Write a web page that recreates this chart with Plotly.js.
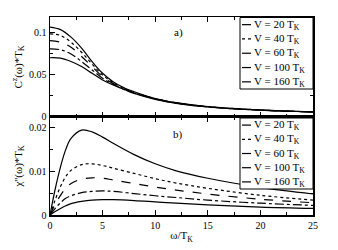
<!DOCTYPE html>
<html><head><meta charset="utf-8">
<script src="https://cdn.plot.ly/plotly-3.0.1.min.js"></script>
<style>html,body{margin:0;padding:0;background:#fff}#c{width:338px;height:250px}</style>
</head><body><div id="c"></div>
<script>
const seriesNames = ["V = 20 T<sub>K</sub>","V = 40 T<sub>K</sub>","V = 60 T<sub>K</sub>","V = 100 T<sub>K</sub>","V = 160 T<sub>K</sub>"];
const dashes = ["solid","dot","dash","dashdot","solid"];

const omegaTop = [0,1,2,3,4,5,6,7,8,10,12,15,20,25];
const cV20  = [0.107,0.104,0.095,0.082,0.066,0.052,0.042,0.035,0.030,0.022,0.0170,0.0125,0.0085,0.0062];
const cV40  = [0.099,0.097,0.089,0.077,0.063,0.050,0.041,0.034,0.029,0.022,0.0168,0.0123,0.0083,0.0061];
const cV60  = [0.091,0.089,0.083,0.072,0.060,0.048,0.040,0.034,0.029,0.0218,0.0167,0.0122,0.0082,0.0060];
const cV100 = [0.081,0.080,0.075,0.066,0.056,0.046,0.039,0.033,0.0285,0.0215,0.0165,0.0120,0.0081,0.0060];
const cV160 = [0.0705,0.070,0.066,0.060,0.052,0.044,0.038,0.033,0.028,0.021,0.0163,0.0119,0.0080,0.0059];

const omegaBot = [0,0.5,1,1.5,2,3,4,5,6,8,10,12,15,20,25];
const xV20  = [0,0.0060,0.0110,0.0150,0.0175,0.0194,0.0190,0.0178,0.0164,0.0138,0.0117,0.0101,0.0084,0.0063,0.0048];
const xV40  = [0,0.0035,0.0065,0.0088,0.0102,0.0115,0.0117,0.0113,0.0107,0.0095,0.0083,0.0073,0.0061,0.0045,0.0034];
const xV60  = [0,0.0025,0.0045,0.0061,0.0072,0.0082,0.0085,0.0084,0.0080,0.0072,0.0064,0.0057,0.0048,0.0036,0.0028];
const xV100 = [0,0.0015,0.0028,0.0038,0.0044,0.0051,0.0054,0.0055,0.0054,0.0049,0.0044,0.0040,0.0034,0.0027,0.0022];
const xV160 = [0,0.0008,0.0015,0.0021,0.0026,0.0031,0.0034,0.0035,0.0035,0.0033,0.0030,0.0027,0.0023,0.0018,0.0015];

const topY = [cV20,cV40,cV60,cV100,cV160];
const botY = [xV20,xV40,xV60,xV100,xV160];

const traces = [];
topY.forEach((y,i)=>traces.push({x:omegaTop,y:y,xaxis:'x',yaxis:'y',type:'scatter',mode:'lines',
  line:{color:'#000',width:1.2,dash:dashes[i],shape:'spline'},name:seriesNames[i],showlegend:false}));
botY.forEach((y,i)=>traces.push({x:omegaBot,y:y,xaxis:'x2',yaxis:'y2',type:'scatter',mode:'lines',
  line:{color:'#000',width:1.2,dash:dashes[i],shape:'spline'},name:seriesNames[i],showlegend:false}));

const F = "Liberation Serif, Times New Roman, serif";
const W = 338, H = 250, ML = 50, MR = 25, MT = 17, MB = 35;
const pw = W-ML-MR, ph = H-MT-MB;
const px = v => (v-ML)/pw;            // pixel -> paper x
const py = v => (H-MB-v)/ph;          // pixel -> paper y

const axBase = {ticks:'inside',ticklen:5,tickwidth:1,tickcolor:'#000',showline:true,linecolor:'#000',linewidth:1.5,
  mirror:'allticks',showgrid:false,zeroline:false,tickfont:{family:F,size:10,color:'#000'}};

// manual legends (compact, like the reference)
const shapes = [], annotations = [];
function addLegend(top, bottom){
  shapes.push({type:'rect',xref:'paper',yref:'paper',x0:px(240),x1:px(313),y0:py(bottom),y1:py(top),
    line:{color:'#000',width:1},fillcolor:'#fff',layer:'above'});
  const step = (bottom-top)/5;
  seriesNames.forEach((n,i)=>{
    const yc = top + step*(i+0.5);
    shapes.push({type:'line',xref:'paper',yref:'paper',x0:px(242),x1:px(251),y0:py(yc),y1:py(yc),
      line:{color:'#000',width:1.2,dash:dashes[i]},layer:'above'});
    annotations.push({xref:'paper',yref:'paper',x:px(253),y:py(yc),xanchor:'left',yanchor:'middle',
      text:n,showarrow:false,font:{family:F,size:11,color:'#000'},borderpad:0});
  });
}
addLegend(17.5, 89);
addLegend(118, 189);
annotations.push({xref:'x',yref:'y',x:12.2,y:0.1,text:'a)',showarrow:false,font:{family:F,size:11,color:'#000'}});
annotations.push({xref:'x2',yref:'y2',x:12.2,y:0.0185,text:'b)',showarrow:false,font:{family:F,size:11,color:'#000'}});

const layout = {
  width:W,height:H,margin:{l:ML,r:MR,t:MT,b:MB},
  paper_bgcolor:'#fff',plot_bgcolor:'#fff',font:{family:F,color:'#000'},
  showlegend:false,
  xaxis:Object.assign({},axBase,{domain:[0,1],anchor:'y',range:[0,25],dtick:5,showticklabels:false,minor:{dtick:2.5,ticklen:3,ticks:'inside',tickcolor:'#000'}}),
  yaxis:Object.assign({},axBase,{domain:[0.495,1],anchor:'x',range:[0,0.119],dtick:0.05,minor:{dtick:0.025,ticklen:3,ticks:'inside',tickcolor:'#000'},
    title:{text:'C<sup>z</sup>(ω)*T<sub>K</sub>',font:{family:F,size:11,color:'#000'},standoff:4}}),
  xaxis2:Object.assign({},axBase,{domain:[0,1],anchor:'y2',range:[0,25],dtick:5,minor:{dtick:2.5,ticklen:3,ticks:'inside',tickcolor:'#000'},
    title:{text:'ω/T<sub>K</sub>',font:{family:F,size:11,color:'#000'},standoff:2}}),
  yaxis2:Object.assign({},axBase,{domain:[0,0.495],anchor:'x2',range:[0,0.0224],dtick:0.01,minor:{dtick:0.005,ticklen:3,ticks:'inside',tickcolor:'#000'},
    title:{text:'χ\'\'(ω)*T<sub>K</sub>',font:{family:F,size:11,color:'#000'},standoff:4}}),
  shapes:shapes,
  annotations:annotations
};
Plotly.newPlot('c',traces,layout,{displayModeBar:false,staticPlot:true});
</script></body></html>
